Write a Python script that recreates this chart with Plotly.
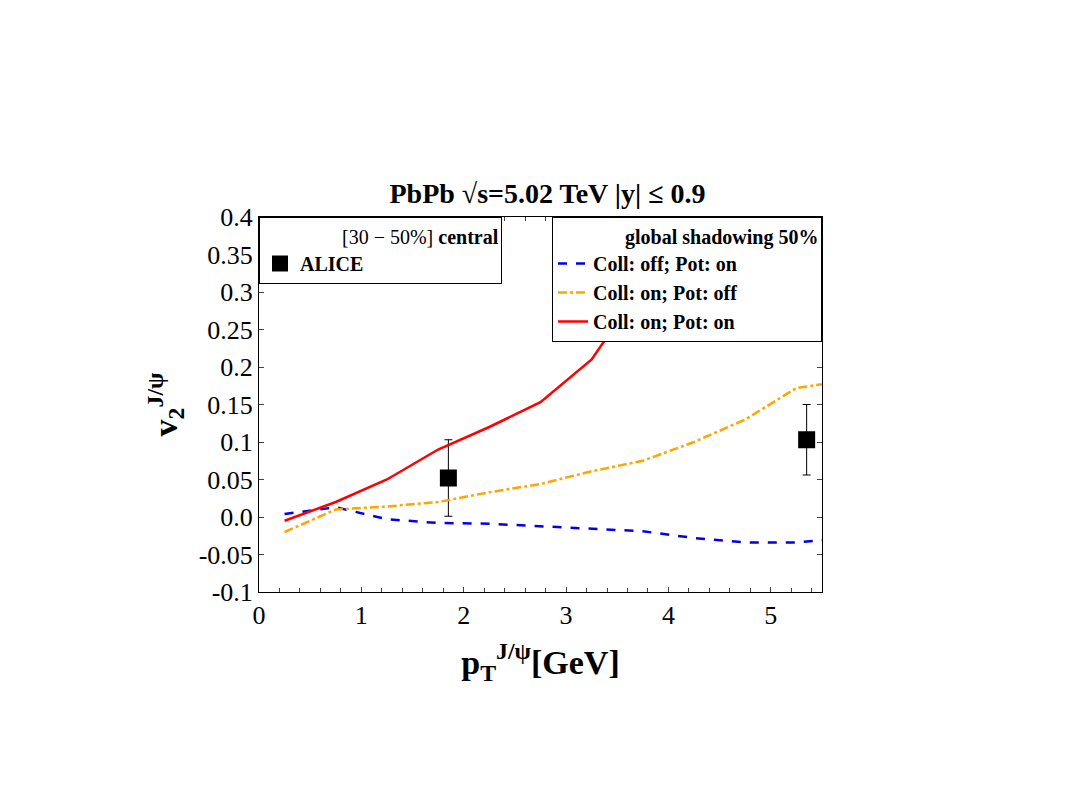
import plotly.graph_objects as go

x_th = [0.25, 0.75, 1.25, 1.75, 2.25, 2.75, 3.25, 3.75, 4.25, 4.75, 5.25, 5.5]
red = [-0.005, 0.02, 0.05, 0.09, 0.12, 0.153, 0.21, 0.31, 0.45, 0.6, 0.75, 0.82]
orange = [-0.02, 0.01, 0.014, 0.02, 0.033, 0.044, 0.061, 0.075, 0.1, 0.13, 0.172, 0.177]
blue = [0.004, 0.013, -0.003, -0.008, -0.009, -0.012, -0.015, -0.019, -0.028, -0.034, -0.034, -0.031]
alice_x = [1.85, 5.35]
alice_y = [0.052, 0.103]
alice_err = [0.051, 0.047]
yticks = [-0.1, -0.05, 0.0, 0.05, 0.1, 0.15, 0.2, 0.25, 0.3, 0.35, 0.4]
ytext = ["-0.1", "-0.05", "0.0", "0.05", "0.1", "0.15", "0.2", "0.25", "0.3", "0.35", "0.4"]

F = "Liberation Serif"
fig = go.Figure()
fig.add_trace(go.Scatter(x=alice_x, y=alice_y, mode="markers", name="<b>ALICE</b>",
    marker=dict(symbol="square", size=17, color="black"),
    error_y=dict(type="data", array=alice_err, color="black", thickness=1, width=4),
    legend="legend", showlegend=True))
fig.add_trace(go.Scatter(x=x_th, y=blue, mode="lines", name="<b>Coll: off; Pot: on</b>",
    line=dict(color="#0000ee", width=2.5, dash="dash"), legend="legend2"))
fig.add_trace(go.Scatter(x=x_th, y=orange, mode="lines", name="<b>Coll: on; Pot: off</b>",
    line=dict(color="orange", width=2.5, dash="dashdot"), legend="legend2"))
fig.add_trace(go.Scatter(x=x_th, y=red, mode="lines", name="<b>Coll: on; Pot: on</b>",
    line=dict(color="red", width=2.5), legend="legend2"))

ax = dict(showline=True, linecolor="black", linewidth=1, mirror="allticks", ticks="inside",
          showgrid=False, zeroline=False, tickfont=dict(size=26, family=F, color="black"),
          minor=dict(ticks="inside", ticklen=4))
fig.update_layout(
    width=1079, height=810, plot_bgcolor="white", paper_bgcolor="white",
    margin=dict(l=251, r=265, t=209, b=226, autoexpand=False),
    showlegend=True,
    font=dict(family=F, color="black"),
    title=dict(text="<b>PbPb √s=5.02 TeV |y| ≤ 0.9</b>", x=0.5, xanchor="center",
               y=1 - 185/810, yanchor="middle", font=dict(size=28, family=F)),
    xaxis=dict(range=[0, 5.5], dtick=1, title=dict(text="<b>p<sub>T</sub><sup>J/ψ</sup>[GeV]</b>",
               font=dict(size=34, family=F), standoff=20), **ax),
    yaxis=dict(range=[-0.1, 0.4], tickvals=yticks, ticktext=ytext,
               title=dict(text="<b>v<sub>2</sub><sup>J/ψ</sup></b>", font=dict(size=34, family=F), standoff=10), **ax),
    legend=dict(x=0, y=1, xanchor="left", yanchor="top", bgcolor="white", bordercolor="black",
                borderwidth=1, font=dict(size=20, family=F), entrywidth=235,
                title=dict(text="                [30 − 50%] <b>central</b>", font=dict(size=20, family=F))),
    legend2=dict(x=1, y=1, xanchor="right", yanchor="top", bgcolor="white", bordercolor="black",
                 borderwidth=1, font=dict(size=20, family=F), tracegroupgap=4, entrywidth=310,
                 title=dict(text="              <b>global shadowing 50%</b>", font=dict(size=20, family=F))),
)
fig.write_html("out.html")
